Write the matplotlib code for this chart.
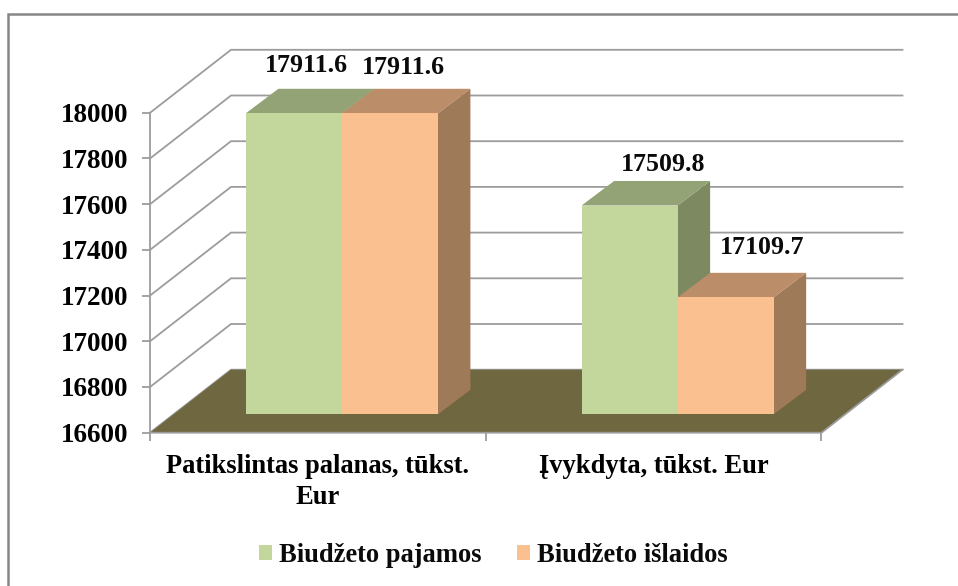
import matplotlib
matplotlib.use("Agg")
import matplotlib.pyplot as plt
from matplotlib.lines import Line2D
from matplotlib.patches import Polygon
from matplotlib.transforms import IdentityTransform

categories = ["Patikslintas palanas, tūkst.\nEur", "Įvykdyta, tūkst. Eur"]
series_names = ["Biudžeto pajamos", "Biudžeto išlaidos"]
pajamos = [17911.6, 17509.8]
islaidos = [17911.6, 17109.7]
y_ticks = [16600, 16800, 17000, 17200, 17400, 17600, 17800, 18000]

W, H = 958, 586
plt.rcParams["font.family"] = ["Liberation Serif", "DejaVu Serif"]
plt.rcParams["font.weight"] = "bold"
plt.rcParams["text.color"] = "#0a0a0a"

fig = plt.figure(figsize=(W / 100, H / 100), dpi=100, facecolor="white")


def box(l, top, r, bottom):
    return [l / W, 1 - bottom / H, (r - l) / W, (bottom - top) / H]


ax = fig.add_axes(box(150, 112.8, 821.5, 432.7), facecolor="none", zorder=1)
ab = fig.add_axes(box(174, 93, 845.5, 414.3), facecolor="none", zorder=2)
for a in (ax, ab):
    a.set_xlim(0, 2)
    a.set_ylim(16600, 18000)
    for s in a.spines.values():
        s.set_visible(False)
ab.set_xticks([])
ab.set_yticks([])

GRID = "#9c9c9c"
WALL = (81, 63)
BOX = (32.5, 24.5)


def pts(a, coords):
    out = []
    for x, v, dx, dy in coords:
        px, py = a.transData.transform((x, v))
        out.append((px + dx, py + dy))
    return out


def disp_line(a, coords, **kw):
    p = pts(a, coords)
    a.add_line(Line2D([q[0] for q in p], [q[1] for q in p],
                      transform=IdentityTransform(), clip_on=False, **kw))


def disp_poly(a, coords, **kw):
    a.add_patch(Polygon(pts(a, coords), closed=True,
                        transform=IdentityTransform(), clip_on=False, **kw))


dx, dy = WALL
ymin = y_ticks[0]
# wall gridlines (the lowest one sits behind the floor edge)
for v in y_ticks:
    disp_line(ax, [(0, v, 0, 0), (0, v, dx, dy), (2, v, dx, dy)],
              color=GRID, lw=1.3, zorder=0.9, solid_joinstyle="miter")
# floor of the plot
disp_poly(ax, [(0, ymin, 0, 0), (2, ymin, 0, 0), (2, ymin, dx, dy), (0, ymin, dx, dy)],
          facecolor="#6f673f", edgecolor="none", zorder=1)
disp_line(ax, [(0, y_ticks[-1], 0, 0), (0, ymin, 0, 0), (2, ymin, 0, 0), (2, ymin, dx, dy)],
          color=GRID, lw=1.3, zorder=1.6, solid_joinstyle="miter")

# axes ticks and labels
ax.set_yticks(y_ticks)
ax.set_yticklabels([str(v) for v in y_ticks], fontsize=19.5, fontweight="bold")
ax.set_xticks([0, 1, 2])
ax.set_xticklabels([])
ax.set_xticks([0.5, 1.5], minor=True)
ax.set_xticklabels(categories, minor=True, fontsize=19.1, fontweight="bold", linespacing=1.36)
ax.tick_params(axis="y", length=6, width=1.3, color=GRID, pad=9.3)
ax.tick_params(axis="x", which="major", length=6, width=1.3, color=GRID)
ax.tick_params(axis="x", which="minor", length=0, pad=15)

# 3-D looking bars
BW = 0.286
bx, by = BOX
faces = [
    (pajamos, -BW, "#c3d69b", "#94a375", "#7d8961"),
    (islaidos, 0, "#fac090", "#bb8d68", "#9f7a58"),
]
handles = []
for vals, off, front, top, side in faces:
    for i, v in enumerate(vals):
        x0 = i + 0.5 + off
        x1 = x0 + BW
        disp_poly(ab, [(x1, ymin, 0, 0), (x1, ymin, bx, by), (x1, v, bx, by), (x1, v, 0, 0)],
                  facecolor=side, edgecolor="none", zorder=2)
        disp_poly(ab, [(x0, v, 0, 0), (x1, v, 0, 0), (x1, v, bx, by), (x0, v, bx, by)],
                  facecolor=top, edgecolor="none", zorder=2)
    cont = ab.bar([i + 0.5 + off + BW / 2 for i in range(len(vals))],
                  [v - ymin for v in vals], width=BW, bottom=ymin,
                  color=front, edgecolor="none", zorder=3, label=None, clip_on=False)
    handles.append(cont[0])

# value labels
label_offsets = {(0, 0): (13, 48), (1, 0): (14, 46), (0, 1): (34, 41), (1, 1): (36, 50)}
for s, vals in enumerate([pajamos, islaidos]):
    for i, v in enumerate(vals):
        xc = i + 0.5 + (-BW / 2 if s == 0 else BW / 2)
        ab.annotate(f"{v:.1f}", (xc, v), xytext=label_offsets[(s, i)], textcoords="offset pixels",
                    ha="center", va="center", fontsize=18.6, fontweight="bold",
                    annotation_clip=False, zorder=5)

fig.legend(handles, series_names, loc="center", bbox_to_anchor=(493.5 / W, 1 - 555.5 / H),
           ncol=2, frameon=False, prop={"size": 19.1, "weight": "bold"},
           handlelength=0.49, handleheight=0.49, handletextpad=0.26, columnspacing=1.36,
           borderpad=0, borderaxespad=0)

# outer frame (only the top and left edges fall inside the image)
fig.add_artist(Line2D([8 / W, 8 / W, 1], [0, 1 - 14.3 / H, 1 - 14.3 / H], color="#868686", lw=1.8,
                      transform=fig.transFigure, solid_joinstyle="miter"))

fig.savefig("out.png", dpi=100, facecolor="white")
